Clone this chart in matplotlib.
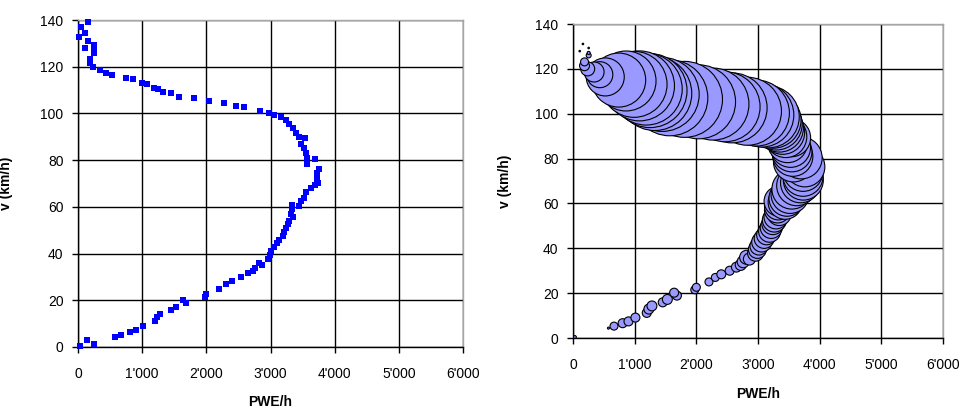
import matplotlib
matplotlib.use("Agg")
from matplotlib import pyplot as plt
from matplotlib.ticker import FuncFormatter

# speed (km/h), sorted ascending, and PWE per hour
speed = [0.4, 1.2, 3.1, 4.4, 5.3, 6.6, 7.4, 9.1, 11.2, 12.9,
         14.3, 15.9, 17.2, 18.9, 20.2, 21.5, 22.6, 25.0, 27.0, 28.4,
         30.0, 31.6, 32.6, 34.0, 36.0, 35.2, 37.8, 39.5, 41.0, 42.8,
         44.4, 46.0, 47.6, 49.3, 51.0, 52.6, 54.0, 55.5, 57.1, 58.9,
         61.0, 60.5, 62.3, 64.0, 66.4, 67.9, 69.2, 70.4, 72.1, 74.3,
         76.3, 78.5, 80.3, 81.0, 83.0, 85.0, 87.1, 89.3, 89.8, 91.7,
         93.6, 95.4, 97.1, 98.6, 99.4, 100.3, 101.1, 102.6, 103.1, 104.3,
         105.3, 106.4, 107.1, 108.6, 109.0, 110.3, 111.0, 112.4, 113.1, 114.6,
         115.0, 116.4, 117.4, 118.6, 120.0, 121.4, 123.1, 126.0, 127.1, 127.9,
         129.3, 131.1, 132.6, 134.6, 137.1, 139.1]
pwe = [30, 254, 135, 575, 665, 805, 900, 1012, 1196, 1230,
       1280, 1455, 1530, 1685, 1640, 1975, 2000, 2205, 2308, 2405,
       2541, 2650, 2720, 2760, 2816, 2860, 2960, 2990, 3015, 3060,
       3100, 3140, 3188, 3215, 3240, 3266, 3292, 3345, 3316, 3332,
       3342, 3440, 3470, 3520, 3550, 3627, 3690, 3735, 3731, 3731,
       3760, 3575, 3700, 3565, 3550, 3528, 3480, 3545, 3451, 3400,
       3347, 3295, 3244, 3166, 3062, 2974, 2829, 2580, 2466, 2269,
       2036, 1808, 1570, 1446, 1326, 1249, 1187, 1078, 990, 860,
       741, 523, 435, 342, 238, 187, 187, 254, 254, 109,
       254, 161, 16, 109, 41, 161]
# bubble value for the right chart (100 = largest bubble, 0 = not shown)
weight = [0.16, 0, 0, 0.07, 1.1, 1.4, 1.4, 1.4, 1.4, 1.7,
          1.7, 1.4, 1.7, 1.4, 1.4, 1.1, 1.1, 1.1, 1.1, 1.4,
          1.4, 1.7, 2.1, 2.5, 3.4, 2.5, 4.4, 5.6, 5.6, 6.9,
          6.9, 6.9, 8.4, 8.4, 8.4, 10.0, 10.0, 10.0, 11.7, 13.6,
          15.6, 20.0, 22.4, 25.0, 27.7, 27.7, 27.7, 27.7, 27.7, 27.7,
          27.7, 27.7, 30.5, 27.7, 27.7, 27.7, 27.7, 25.0, 30.5, 33.5,
          39.9, 46.8, 54.3, 66.6, 70.9, 75.4, 80.1, 84.8, 84.8, 89.8,
          94.8, 100, 100, 94.8, 94.8, 94.8, 89.8, 84.8, 75.4, 62.3,
          50.5, 25.0, 11.7, 6.9, 3.4, 1.7, 1.1, 0.43, 0.16, 0.04,
          0.04, 0.04, 0, 0, 0, 0]

x_ticks = [0, 1000, 2000, 3000, 4000, 5000, 6000]
y_ticks = [0, 20, 40, 60, 80, 100, 120, 140]

plt.rcParams["font.family"] = ["Liberation Sans", "DejaVu Sans"]


def thousands(v, pos):
  return f"{int(round(v)):,}".replace(",", "'")


def style_axes(ax):
  ax.set_xlim(x_ticks[0], x_ticks[-1])
  ax.set_ylim(y_ticks[0], y_ticks[-1])
  ax.set_xticks(x_ticks)
  ax.set_yticks(y_ticks)
  ax.xaxis.set_major_formatter(FuncFormatter(thousands))
  ax.grid(True, color="black", linewidth=1.0)
  ax.set_axisbelow(True)
  for side in ("top", "right"):
    ax.spines[side].set_color("#a6a6a6")
    ax.spines[side].set_linewidth(1.0)
  for side in ("left", "bottom"):
    ax.spines[side].set_color("black")
    ax.spines[side].set_linewidth(1.0)
  ax.tick_params(direction="out", length=4.5, width=1, colors="black", labelsize=10)
  ax.tick_params(axis="x", pad=10)
  ax.tick_params(axis="y", pad=6)
  ax.set_xlabel("PWE/h", fontsize=10, fontweight="bold", va="top")
  ax.set_ylabel("v (km/h)", fontsize=10, fontweight="bold", va="bottom")


fig = plt.figure(figsize=(9.63, 4.09), dpi=100)

# left: plain scatter
ax1 = fig.add_axes([78 / 963, 1 - 347 / 409, 385 / 963, 327 / 409])
style_axes(ax1)
ax1.plot(pwe, speed, linestyle="none", marker="s", markersize=4.4,
         color="#0000ff", markeredgewidth=0, clip_on=False, zorder=3)
ax1.xaxis.set_label_coords(0.5, -0.147)
ax1.yaxis.set_label_coords(-0.169, 0.5)

# right: bubble chart, area follows weight (max diameter ~76 px),
# drawn in speed order so faster classes sit on top
ax2 = fig.add_axes([573 / 963, 1 - 338 / 409, 370 / 963, 314 / 409])
style_axes(ax2)
shown = [i for i, w in enumerate(weight) if w > 0]
bx = [pwe[i] for i in shown]
by = [speed[i] for i in shown]
sizes = [(76 * (weight[i] / 100) ** 0.5 * 0.72) ** 2 for i in shown]
ax2.scatter(bx, by, s=sizes, facecolor="#9999ff", edgecolor="black",
            linewidths=0.8, zorder=2)
ax2.xaxis.set_label_coords(0.5, -0.156)
ax2.yaxis.set_label_coords(-0.166, 0.5)

fig.savefig("out.png", dpi=100)
